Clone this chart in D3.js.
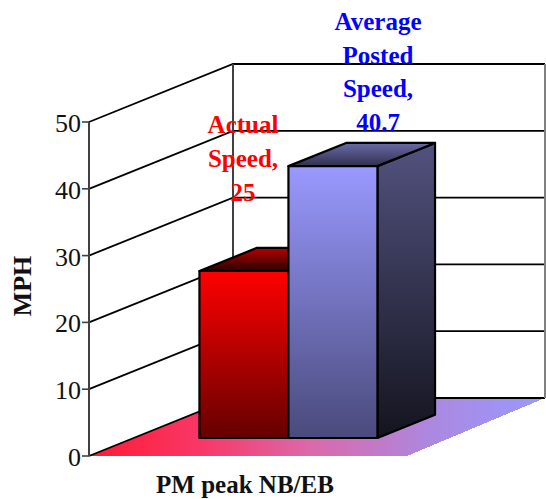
<!DOCTYPE html>
<html><head><meta charset="utf-8">
<script src="https://cdn.jsdelivr.net/npm/d3@7"></script>
<style>html,body{margin:0;padding:0;background:#fff}svg{display:block}text{font-family:"Liberation Serif",serif}</style>
</head><body><div id="c"></div>
<script>
const seriesNames = ["Actual Speed", "Average Posted Speed"];
const seriesValues = [25, 40.7];
const labelLines = [["Actual","Speed,","25"],["Average","Posted","Speed,","40.7"]];
const category = "PM peak NB/EB";
const tickValues = [0,10,20,30,40,50];
const axisTitle = "MPH";

const W=546,H=499;
const svg=d3.select("#c").append("svg").attr("width",W).attr("height",H);
const y=d3.scaleLinear().domain([0,50]).range([456,122]);
const depthX=d3.scaleLinear().domain([0,1]).range([0,144]);
const depthY=d3.scaleLinear().domain([0,1]).range([0,-58]);
const x=d3.scaleBand().domain(seriesNames).range([154.8,332.8]);
const d0=0.31,d1=0.71;
const wallW=312;
const P=(px,v,t)=>[px+depthX(t),y(v)+depthY(t)];
const path=pts=>d3.line()(pts)+"Z";
const defs=svg.append("defs");
function grad(id,stops,horiz){
  const g=defs.append("linearGradient").attr("id",id).attr("x1",0).attr("y1",0)
    .attr("x2",horiz?1:0).attr("y2",horiz?0:1);
  stops.forEach(([o,c])=>g.append("stop").attr("offset",o).attr("stop-color",c));
}
grad("floor",[[0,"#ff1a33"],[0.25,"#f83868"],[0.48,"#dc68a8"],[0.75,"#ac88e0"],[1,"#9999ff"]],true);
grad("rF",[[0,"#ff0000"],[1,"#660000"]]);
grad("rT",[[0,"#b80000"],[1,"#2a0000"]]);
grad("rS",[[0,"#800000"],[1,"#200000"]]);
grad("bF",[[0,"#9999ff"],[1,"#4a4a7c"]]);
grad("bT",[[0,"#6a6aa8"],[1,"#30304e"]]);
grad("bS",[[0,"#52527f"],[1,"#14141f"]]);
const x0=89;
// floor
const floorPts=[P(x0,0,0),P(x0,0,1),[x0+144+wallW,y(0)+depthY(1)],[407,y(0)]];
svg.append("path").attr("d",path(floorPts)).attr("fill","url(#floor)").attr("shape-rendering","crispEdges");
// grid
const grid=svg.append("g");
grid.selectAll("path").data(tickValues).join("path")
  .attr("d",v=>d3.line()([P(x0,v,0),P(x0,v,1),[x0+144+wallW,y(v)+depthY(1)]]))
  .attr("fill","none").attr("stroke","#000").attr("stroke-width",1.8);
// walls' verticals
svg.append("line").attr("x1",233).attr("x2",233).attr("y1",y(50)-58).attr("y2",y(0)-58).attr("stroke","#404040").attr("stroke-width",2);
svg.append("line").attr("x1",545).attr("x2",545).attr("y1",y(50)-58).attr("y2",y(0)-58).attr("stroke","#808080").attr("stroke-width",2);
// axis
const ax=svg.append("g");
ax.append("line").attr("x1",x0).attr("x2",x0).attr("y1",y(50)).attr("y2",y(0)).attr("stroke","#404040").attr("stroke-width",2);
ax.selectAll("line.t").data(tickValues).join("line").attr("class","t")
  .attr("x1",x0-7).attr("x2",x0).attr("y1",d=>y(d)).attr("y2",d=>y(d)).attr("stroke","#404040").attr("stroke-width",1.6);
ax.selectAll("text").data(tickValues).join("text").attr("x",x0-8).attr("y",d=>y(d)+10)
  .attr("text-anchor","end").attr("font-size",26).attr("fill","#111").text(d=>d);
// bars
const fills=[["url(#rF)","url(#rT)","url(#rS)"],["url(#bF)","url(#bT)","url(#bS)"]];
seriesNames.forEach((n,i)=>{
  const v=seriesValues[i],a=x(n),b=a+x.bandwidth();
  const g=svg.append("g").attr("stroke","#000").attr("stroke-width",2.2).attr("stroke-linejoin","round");
  g.append("path").attr("d",path([P(b,0,d0),P(b,0,d1),P(b,v,d1),P(b,v,d0)])).attr("fill",fills[i][2]);
  g.append("path").attr("d",path([P(a,v,d0),P(a,v,d1),P(b,v,d1),P(b,v,d0)])).attr("fill",fills[i][1]);
  g.append("path").attr("d",path([P(a,0,d0),P(b,0,d0),P(b,v,d0),P(a,v,d0)])).attr("fill",fills[i][0]);
});
// data labels
const lblX=[243,378],lblY=[133,30],lh=[34,33.7],cols=["#ff0000","#0000ff"];
labelLines.forEach((ls,i)=>ls.forEach((t,j)=>svg.append("text").attr("x",lblX[i]).attr("y",lblY[i]+j*lh[i])
  .attr("text-anchor","middle").attr("font-size",25).attr("font-weight","bold").attr("fill",cols[i]).text(t)));
// titles
svg.append("text").attr("transform","translate(31,286) rotate(-90)").attr("text-anchor","middle")
  .attr("font-size",26).attr("font-weight","bold").attr("fill","#111").text(axisTitle);
svg.append("text").attr("x",245).attr("y",493).attr("text-anchor","middle")
  .attr("font-size",25).attr("font-weight","bold").attr("fill","#111").text(category);
</script></body></html>
